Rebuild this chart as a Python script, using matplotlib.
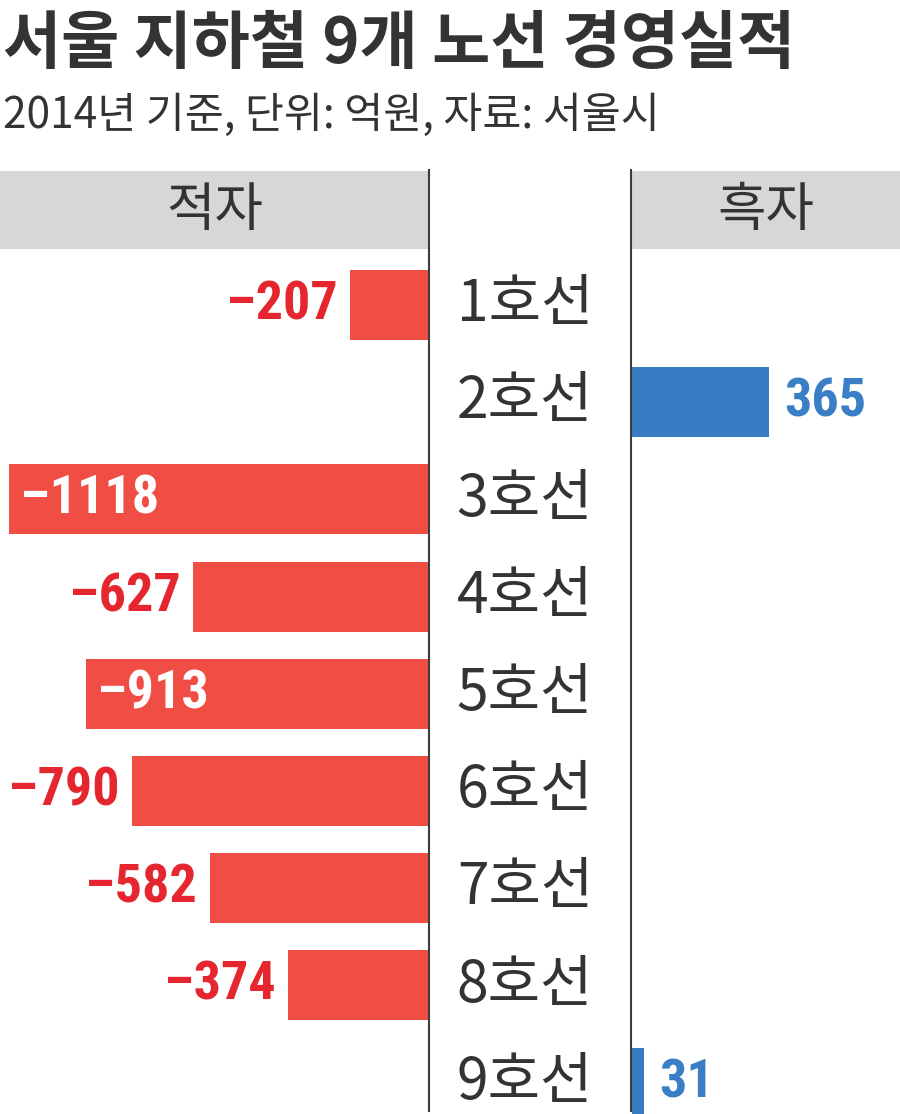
import matplotlib
matplotlib.use('Agg')
import matplotlib.pyplot as plt
from matplotlib.patches import Rectangle
from matplotlib.lines import Line2D
from matplotlib import font_manager

# ---- data ----
lines = ['1호선', '2호선', '3호선', '4호선', '5호선', '6호선', '7호선', '8호선', '9호선']
values = [-207, 365, -1118, -627, -913, -790, -582, -374, 31]
title = '서울 지하철 9개 노선 경영실적'
subtitle = '2014년 기준, 단위: 억원, 자료: 서울시'
header_left = '적자'
header_right = '흑자'

# ---- style ----
KR = 'Noto Sans CJK KR'
RED_BAR = '#f04e45'
RED_TXT = '#e5262e'
BLUE_BAR = '#3a7cc3'
BLUE_TXT = '#3a7ec6'
GRAY_HDR = '#d6d7d9'
DARK = '#333333'

available = {f.name for f in font_manager.fontManager.ttflist}
num_font = None
for cand in ['Roboto Condensed', 'Liberation Sans Narrow', 'Open Sans Condensed', 'Noto Sans Condensed']:
    if cand in available:
        num_font = cand
        break
if num_font is None:
    num_font = KR
    num_size = 32
else:
    num_size = 39

W, H = 900, 1114
fig = plt.figure(figsize=(W / 100, H / 100), dpi=100)


def fx(px):
    return px / W


def fy(py):
    return 1 - py / H


SCALE = 0.375          # pixels per unit
ROW0, STEP = 305, 97.2  # pixel center of first row, row spacing
AX_TOP = 250
ylim = ((H - ROW0) / STEP, (AX_TOP - ROW0) / STEP)

axL = fig.add_axes([0, 0, fx(428), fy(AX_TOP)])
axL.set_xlim(-428 / SCALE, 0)
axR = fig.add_axes([fx(632), 0, fx(W - 632), fy(AX_TOP)])
axR.set_xlim(0, (W - 632) / SCALE)
for ax in (axL, axR):
    ax.set_ylim(*ylim)
    ax.axis('off')

# header boxes
fig.add_artist(Rectangle((0, fy(249)), fx(428), (249 - 171) / H,
                         transform=fig.transFigure, color=GRAY_HDR, lw=0, zorder=0))
fig.add_artist(Rectangle((fx(632), fy(249)), fx(W - 632), (249 - 171) / H,
                         transform=fig.transFigure, color=GRAY_HDR, lw=0, zorder=0))
fig.text(fx(215), fy(211), header_left, ha='center', va='center',
         fontsize=38, family=[KR, 'DejaVu Sans'], color=DARK, fontweight='light')
fig.text(fx(766), fy(211), header_right, ha='center', va='center',
         fontsize=38, family=[KR, 'DejaVu Sans'], color=DARK, fontweight='light')

# vertical separators
for xp in (429, 631):
    fig.add_artist(Line2D([fx(xp), fx(xp)], [fy(170), fy(1111)],
                          transform=fig.transFigure, color='#3c3c3c', lw=1.5))

# bars
for i, v in enumerate(values):
    if v < 0:
        axL.barh(i, v, height=0.72, color=RED_BAR, lw=0)
        txt = '\u2013' + str(abs(v))
        if abs(v) > 850:
            axL.annotate(txt, (v, i), xytext=(8, 0), textcoords='offset points',
                         ha='left', va='center', fontsize=num_size, fontweight='bold',
                         family=[num_font, 'DejaVu Sans'], color='white')
        else:
            axL.annotate(txt, (v, i), xytext=(-9, 0), textcoords='offset points',
                         ha='right', va='center', fontsize=num_size, fontweight='bold',
                         family=[num_font, 'DejaVu Sans'], color=RED_TXT)
    else:
        axR.barh(i, v, height=0.72, color=BLUE_BAR, lw=0)
        axR.annotate(str(v), (v, i), xytext=(11, 0), textcoords='offset points',
                     ha='left', va='center', fontsize=num_size, fontweight='bold',
                     family=[num_font, 'DejaVu Sans'], color=BLUE_TXT)
    fig.text(fx(525), fy(ROW0 + STEP * i), lines[i], ha='center', va='center',
             fontsize=41, family=[KR, 'DejaVu Sans'], color=DARK, fontweight='light')

# titles
fig.text(fx(3), fy(63), title, ha='left', va='baseline', fontsize=45.5,
         fontweight='bold', family=[KR, 'DejaVu Sans'], color=DARK)
fig.text(fx(3), fy(128), subtitle, ha='left', va='baseline', fontsize=30.5,
         fontweight='light', family=[KR, 'DejaVu Sans'], color=DARK)

fig.savefig('out.png', dpi=100)
